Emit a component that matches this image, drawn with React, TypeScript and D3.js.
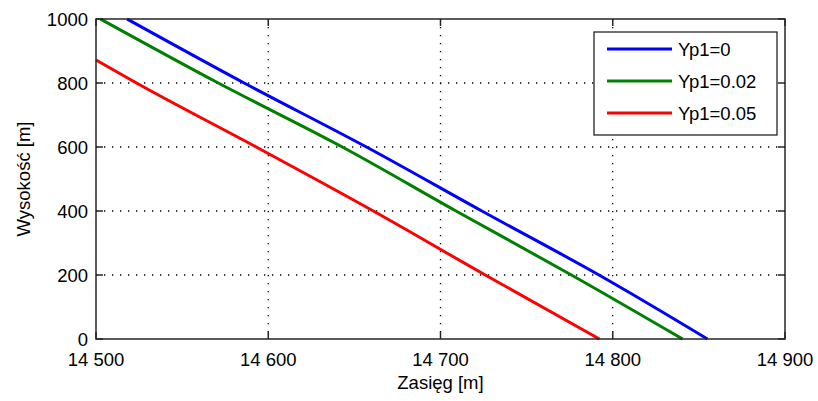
import React, { useEffect, useRef } from 'react';
import * as d3 from 'd3';

const heights = [1000, 800, 600, 400, 200, 0];
const heightsYp005 = [872, 800, 600, 400, 200, 0];

// range values [m] for each series
const rangeYp0 = [14518, 14586, 14657, 14724, 14792, 14855];
const rangeYp002 = [14502.6, 14571, 14643, 14709, 14776, 14840.5];
const rangeYp005 = [14500, 14523.5, 14593, 14661, 14726, 14792.3];

const seriesNames = ['Yp1=0', 'Yp1=0.02', 'Yp1=0.05'];
const seriesColors = ['#0000ff', '#008000', '#ff0000'];

const xTicks = [14500, 14600, 14700, 14800, 14900];
const yTicks = [0, 200, 400, 600, 800, 1000];

const W = 818;
const H = 401;
const margin = { top: 19, right: 33, bottom: 62, left: 96 };
const FONT = '"Liberation Sans", Arial, sans-serif';

const App = () => {
  const svgRef = useRef<SVGSVGElement>(null);

  useEffect(() => {
    const svg = d3.select(svgRef.current);
    svg.selectAll('*').remove();

    const x = d3.scaleLinear().domain([14500, 14900]).range([margin.left, W - margin.right]);
    const y = d3.scaleLinear().domain([0, 1000]).range([H - margin.bottom, margin.top]);
    const [x0, x1] = x.range();
    const [y0, y1] = y.range();

    svg.append('rect').attr('width', W).attr('height', H).attr('fill', '#ffffff');

    // dotted grid
    const grid = svg.append('g').attr('stroke', '#000').attr('stroke-width', 1.3).attr('stroke-dasharray', '1.3,6.7');
    xTicks.slice(1, -1).forEach(t => {
      grid.append('line').attr('x1', x(t)).attr('x2', x(t)).attr('y1', y1).attr('y2', y0);
    });
    yTicks.slice(1, -1).forEach(t => {
      grid.append('line').attr('x1', x0).attr('x2', x1).attr('y1', y(t)).attr('y2', y(t));
    });

    // series
    const data = [
      d3.zip(rangeYp0, heights),
      d3.zip(rangeYp002, heights),
      d3.zip(rangeYp005, heightsYp005),
    ];
    const line = d3.line<number[]>().x(d => x(d[0])).y(d => y(d[1])).curve(d3.curveMonotoneY);
    data.forEach((pts, i) => {
      svg.append('path')
        .attr('d', line(pts))
        .attr('fill', 'none')
        .attr('stroke', seriesColors[i])
        .attr('stroke-width', 3);
    });

    // axes box with inward ticks on all four sides
    const tickLen = 7;
    const axisCol = '#262626';
    const box = svg.append('g').attr('stroke', axisCol).attr('stroke-width', 1.5);
    box.append('rect').attr('x', x0).attr('y', y1).attr('width', x1 - x0).attr('height', y0 - y1).attr('fill', 'none');
    xTicks.forEach(t => {
      box.append('line').attr('x1', x(t)).attr('x2', x(t)).attr('y1', y0).attr('y2', y0 - tickLen);
      box.append('line').attr('x1', x(t)).attr('x2', x(t)).attr('y1', y1).attr('y2', y1 + tickLen);
    });
    yTicks.forEach(t => {
      box.append('line').attr('x1', x0).attr('x2', x0 + tickLen).attr('y1', y(t)).attr('y2', y(t));
      box.append('line').attr('x1', x1).attr('x2', x1 - tickLen).attr('y1', y(t)).attr('y2', y(t));
    });

    // tick labels
    const fmt = (v: number) => {
      const s = String(v);
      return s.length > 3 ? s.slice(0, s.length - 3) + ' ' + s.slice(-3) : s;
    };
    svg.append('g').selectAll('text').data(xTicks).join('text')
      .attr('x', d => x(d)).attr('y', y0 + 27)
      .attr('text-anchor', 'middle')
      .attr('font-family', FONT).attr('font-size', 18.5).attr('fill', '#000')
      .text(d => fmt(d));
    svg.append('g').selectAll('text').data(yTicks).join('text')
      .attr('x', x0 - 8).attr('y', d => y(d) + 7)
      .attr('text-anchor', 'end')
      .attr('font-family', FONT).attr('font-size', 18.5).attr('fill', '#000')
      .text(d => String(d));

    // axis titles
    svg.append('text')
      .attr('x', (x0 + x1) / 2).attr('y', y0 + 50)
      .attr('text-anchor', 'middle')
      .attr('font-family', FONT).attr('font-size', 18.5).attr('fill', '#000')
      .text('Zasięg [m]');
    svg.append('text')
      .attr('transform', `translate(30,${(y0 + y1) / 2}) rotate(-90)`)
      .attr('text-anchor', 'middle')
      .attr('font-family', FONT).attr('font-size', 18.5).attr('fill', '#000')
      .text('Wysokość [m]');

    // legend
    const lg = svg.append('g');
    lg.append('rect').attr('x', 594).attr('y', 32).attr('width', 183).attr('height', 103)
      .attr('fill', '#fff').attr('stroke', axisCol).attr('stroke-width', 1.3);
    seriesNames.forEach((name, i) => {
      const ly = 49 + i * 32;
      lg.append('line').attr('x1', 607).attr('x2', 672).attr('y1', ly).attr('y2', ly)
        .attr('stroke', seriesColors[i]).attr('stroke-width', 3);
      lg.append('text').attr('x', 678).attr('y', ly + 7)
        .attr('font-family', FONT).attr('font-size', 18.5).attr('fill', '#000')
        .text(name);
    });
  }, []);

  return (
    <svg ref={svgRef} width={W} height={H} style={{ position: 'absolute', left: 0, top: 0, display: 'block' }} />
  );
};

export default App;
